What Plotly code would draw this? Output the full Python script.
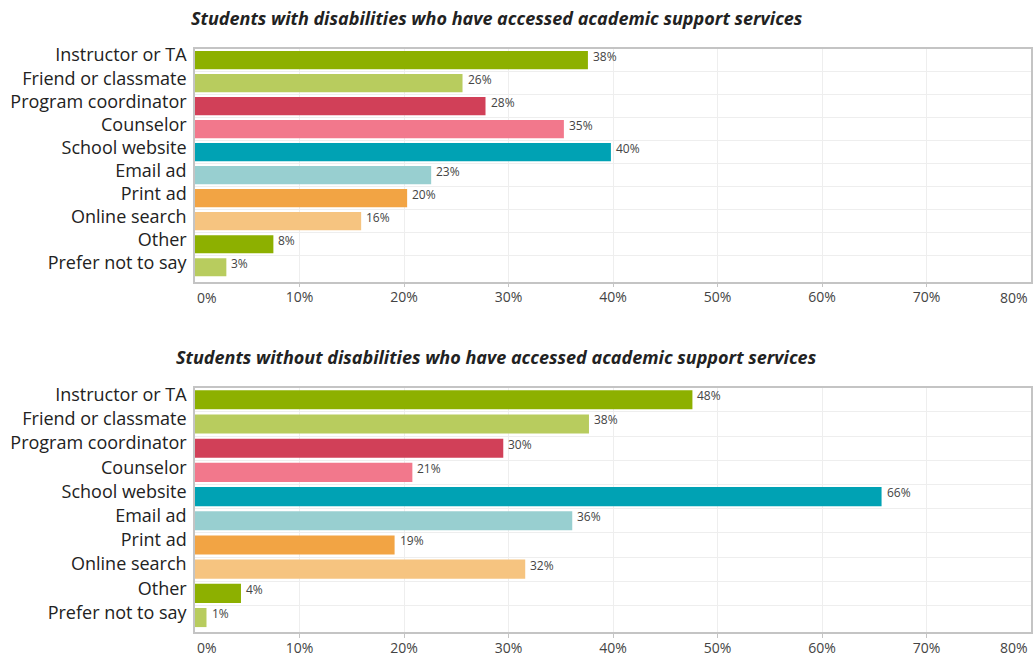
import plotly.graph_objects as go

categories = ["Instructor or TA", "Friend or classmate", "Program coordinator", "Counselor",
              "School website", "Email ad", "Print ad", "Online search", "Other", "Prefer not to say"]
with_dis = [37.6, 25.6, 27.8, 35.3, 39.8, 22.6, 20.3, 15.9, 7.5, 3.0]
without_dis = [47.6, 37.7, 29.5, 20.8, 65.7, 36.1, 19.1, 31.6, 4.4, 1.1]
colors = ["#8db000", "#b8cc5e", "#d14058", "#f2788c", "#00a2b4",
          "#98cfd0", "#f2a444", "#f6c480", "#8db000", "#b8cc5e"]
titles = ["Students with disabilities who have accessed academic support services",
          "Students without disabilities who have accessed academic support services"]
tick_vals = [0, 10, 20, 30, 40, 50, 60, 70, 80]
tick_text = ["0%", "10%", "20%", "30%", "40%", "50%", "60%", "70%", "80%"]

FONT = "Open Sans"
fig = go.Figure()

series = [with_dis, without_dis]
ydomains = [[0.5712, 0.9259], [0.0380, 0.4099]]
title_y = [0.9726, 0.4566]
tickfont = dict(family=FONT, size=14, color="#444444")

for i, vals in enumerate(series):
    sfx = "" if i == 0 else str(i + 1)
    fig.add_trace(go.Bar(
        x=vals, y=categories, orientation="h",
        marker=dict(color=colors, line=dict(width=0)),
        xaxis="x" + sfx, yaxis="y" + sfx, showlegend=False,
        hoverinfo="x+y",
    ))
    for c, v in zip(categories, vals):
        fig.add_annotation(
            x=v, y=c, xref="x" + sfx, yref="y" + sfx,
            text=f"{round(v)}%", showarrow=False,
            xanchor="left", yanchor="middle", xshift=3, yshift=4,
            font=dict(family=FONT, size=12, color="#444444"),
        )
    fig.add_annotation(
        x=0.361, y=title_y[i], xref="paper", yref="paper",
        text=f"<b><i>{titles[i]}</i></b>", showarrow=False,
        xanchor="center", yanchor="middle",
        font=dict(family=FONT, size=18, color="#222222"),
    )
    # edge tick labels kept inside the plot width
    for tv, tt, anc in [(tick_vals[0], tick_text[0], "left"), (tick_vals[-1], tick_text[-1], "right")]:
        fig.add_annotation(
            x=tv, y=0, xref="x" + sfx, yref=f"y{sfx} domain",
            text=tt, showarrow=False, xanchor=anc, yanchor="top",
            yshift=-4, xshift=(-1 if anc == "right" else 0),
            font=tickfont,
        )
    xa = dict(
        domain=[0, 1], range=[0, 80], tickvals=tick_vals[1:-1], ticktext=tick_text[1:-1],
        showgrid=True, gridcolor="#eeeeee", gridwidth=1,
        showline=True, linecolor="#c4c4c4", linewidth=1.5, mirror=True,
        ticks="outside", ticklen=4, tickcolor="#c4c4c4",
        tickfont=tickfont, ticklabelstandoff=-2,
        anchor="y" + sfx, zeroline=False, automargin=False, fixedrange=True,
    )
    ya = dict(
        domain=ydomains[i], type="category", autorange="reversed",
        categoryorder="array", categoryarray=categories,
        tickson="boundaries", showgrid=True, gridcolor="#eeeeee", gridwidth=1,
        showline=True, linecolor="#c4c4c4", linewidth=1.5, mirror=True,
        ticks="", ticklabelstandoff=3, ticklabelshift=5,
        tickfont=dict(family=FONT, size=18, color="#222222"),
        anchor="x" + sfx, automargin=False, fixedrange=True,
    )
    fig.layout["xaxis" + sfx] = xa
    fig.layout["yaxis" + sfx] = ya

fig.update_layout(
    width=1033, height=657,
    margin=dict(l=195, r=2, t=0, b=0),
    paper_bgcolor="white", plot_bgcolor="white",
    bargap=0.21,
    font=dict(family=FONT),
)

fig.write_html("out.html", config={"displayModeBar": False})
